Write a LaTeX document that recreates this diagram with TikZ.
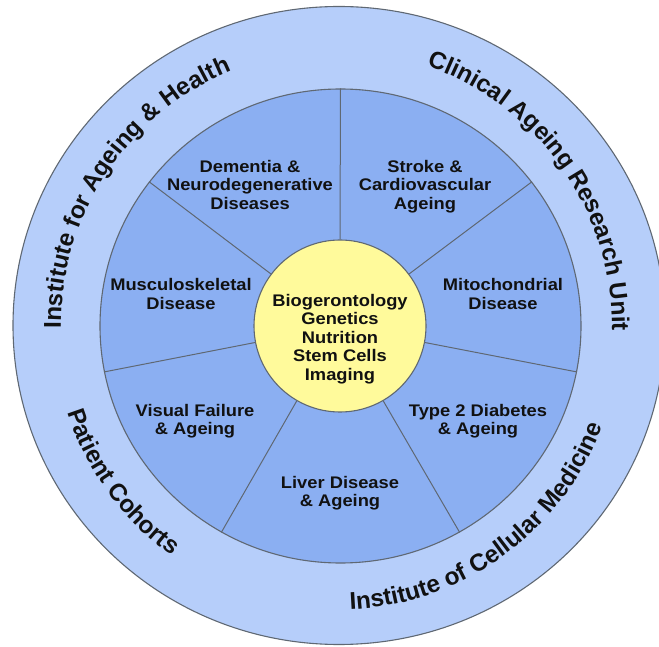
\documentclass[tikz,border=0pt]{standalone}
\usepackage{fontspec}
\setmainfont{Liberation Sans}
\newfontfamily\secfont{Liberation Sans}[FakeStretch=1.09]
\usetikzlibrary{decorations.text,shapes.geometric}
\definecolor{outerblue}{RGB}{182,206,250}
\definecolor{innerblue}{RGB}{139,175,242}
\definecolor{coreyellow}{RGB}{255,250,155}
\definecolor{edgegray}{RGB}{95,104,115}
\definecolor{inkblack}{RGB}{17,17,17}
\begin{document}
\begin{tikzpicture}[x=1pt,y=1pt,
  ringedge/.style={draw=edgegray, line width=1.1pt, inner sep=0pt},
  sectortext/.style={align=center, font=\secfont\bfseries\fontsize{16.8}{18.5}\selectfont, text=inkblack, inner sep=0pt},
  spoke/.style={draw=edgegray, line width=1pt},
  ringlabel/.style={decorate, decoration={text along path, text align=center, text color=inkblack, text={#1}}},
]
\useasboundingbox (0,0) rectangle (659,646);
\node[ringedge, ellipse, fill=outerblue, minimum width=652pt, minimum height=638pt] (outer) at (339,320.5) {};
\coordinate (oc) at (337,320);
\node[ringedge, ellipse, fill=innerblue, minimum width=481pt, minimum height=474pt] (ring) at (340.5,320) {};
\node[ringedge, circle, fill=coreyellow, minimum size=172pt] (core) at (340,320) {};
\foreach \a in {90,37,-11,-60,-120,-169,143}
  \draw[spoke] (core.\a) -- (ring.\a);
\node[sectortext] (coretext) at (340,307) {Biogerontology\\Genetics\\Nutrition\\Stem Cells\\Imaging};
\node[sectortext] (dementia) at (250,461.5) {Dementia \&\\Neurodegenerative\\Diseases};
\node[sectortext] (stroke) at (425,459.5) {Stroke \&\\Cardiovascular\\Ageing};
\node[sectortext] (musculo) at (181,352) {Musculoskeletal\\Disease};
\node[sectortext] (mito) at (503,352) {Mitochondrial\\Disease};
\node[sectortext] (visual) at (195,225) {Visual Failure\\\& Ageing};
\node[sectortext] (diabetes) at (478,225) {Type 2 Diabetes\\\& Ageing};
\node[sectortext] (liver) at (340,153) {Liver Disease\\\& Ageing};
\path[ringlabel={|\bfseries\fontsize{24.3}{24}\selectfont|Institute for Ageing {\&} Health}]
  (oc) ++(200:276) arc[start angle=200, end angle=93, radius=276];
\path[ringlabel={|\bfseries\fontsize{24.3}{24}\selectfont|Clinical Ageing Research Unit}]
  (oc) ++(90:275) arc[start angle=90, end angle=-20, radius=275];
\path[ringlabel={|\bfseries\fontsize{24.3}{24}\selectfont|Patient Cohorts}]
  (oc) ++(180:283) arc[start angle=180, end angle=252, radius=283];
\path[ringlabel={|\bfseries\fontsize{24.3}{24}\selectfont|Institute of Cellular Medicine}]
  (oc) ++(-106:284) arc[start angle=-106, end angle=-2, radius=284];
\end{tikzpicture}
\end{document}
